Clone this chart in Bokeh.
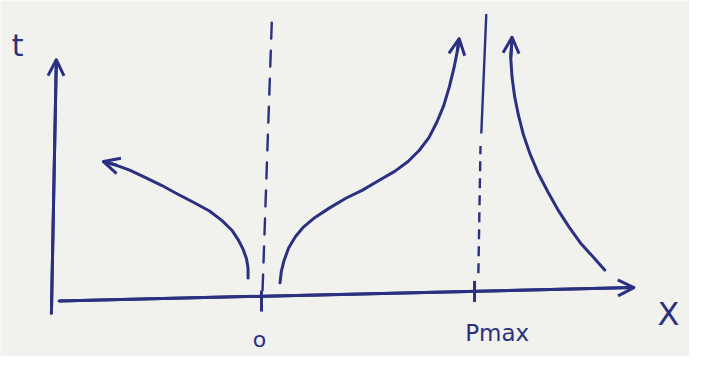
from bokeh.plotting import figure
from bokeh.models import Range1d, Arrow, OpenHead, ColumnDataSource
from bokeh.core.properties import value
from bokeh.embed import file_html
from bokeh.resources import INLINE

INK = "#2b3080"
PAPER = "#f1f1ee"

# --- data (units: origin at x=0, Pmax at x=10; t in the same units) ---
# left branch (x < 0), drawn from near the origin out to the arrow
left_x = [-0.63, -0.63, -0.70, -0.86, -1.09, -1.39, -1.85, -2.44, -3.22,
          -3.99, -4.67, -5.44, -6.19, -6.80, -7.42]
left_t = [0.92, 1.38, 1.83, 2.29, 2.75, 3.21, 3.67, 4.13, 4.56,
          4.97, 5.35, 5.73, 6.09, 6.32, 6.50]
# middle branch (0 < x < Pmax)
mid_x = [0.87, 0.93, 1.06, 1.28, 1.59, 1.97, 2.51, 3.20, 3.96, 4.72, 5.49,
         6.27, 6.88, 7.40, 7.86, 8.24, 8.55, 8.82, 9.04, 9.19, 9.28]
mid_t = [0.69, 1.22, 1.76, 2.37, 2.90, 3.36, 3.82, 4.28, 4.74, 5.12, 5.58,
         6.04, 6.50, 7.03, 7.65, 8.41, 9.17, 10.09, 11.01, 11.78, 12.39]
# right branch (x > Pmax), drawn from the bottom up to the arrow
right_x = [16.11, 15.58, 14.97, 14.44, 13.90, 13.44, 12.98, 12.60, 12.29,
           12.06, 11.88, 11.76, 11.70, 11.76]
right_t = [1.30, 1.91, 2.60, 3.36, 4.21, 5.05, 5.96, 6.88, 7.80,
           8.72, 9.63, 10.55, 11.47, 12.46]

# axes of the sketch
t_axis_x = [-9.86, -9.63]
t_axis_t = [-0.78, 11.38]
x_axis_x = [-9.50, 17.48]
x_axis_t = [-0.18, 0.46]

# vertical asymptotes
origin_x = [0.05, 0.50]
origin_t = [0.32, 13.67]
pmax_solid_x = [10.32, 10.55]
pmax_solid_t = [7.89, 13.53]
pmax_dash_x = [10.18, 10.28]
pmax_dash_t = [1.15, 7.25]

# ticks on the x axis
tick_x = [0.0, 10.0]
tick_t0 = [-0.69, -0.23]
tick_t1 = [0.32, 0.78]

# labels
label_text = ["t", "o", "Pmax", "X"]
label_x = [-11.45, -0.09, 11.06, 19.10]
label_t = [12.05, -2.05, -1.70, -0.80]
label_size = ["30px", "22px", "23px", "32px"]

p = figure(width=689, height=356, output_backend="svg", toolbar_location=None,
           x_range=Range1d(-12.25, 20.09), y_range=Range1d(-2.844, 14.22),
           x_axis_location=None, y_axis_location=None, min_border=0)
p.grid.visible = False
p.outline_line_color = None
p.background_fill_color = PAPER
p.border_fill_color = PAPER

LW = 3

def arrow_line(xs, ts, size=16):
    p.line(xs, ts, line_color=INK, line_width=LW, line_join="round", line_cap="round")
    p.add_layout(Arrow(end=OpenHead(size=size, line_color=INK, line_width=LW),
                       x_start=xs[-2], y_start=ts[-2], x_end=xs[-1], y_end=ts[-1],
                       line_color=INK, line_width=LW))

arrow_line(t_axis_x, t_axis_t)
arrow_line(x_axis_x, x_axis_t)
arrow_line(left_x, left_t)
arrow_line(mid_x, mid_t)
arrow_line(right_x, right_t)

p.line(origin_x, origin_t, line_color=INK, line_width=2.4, line_dash="16 12", line_cap="round")
p.line(pmax_solid_x, pmax_solid_t, line_color=INK, line_width=2.4, line_cap="round")
p.line(pmax_dash_x, pmax_dash_t, line_color=INK, line_width=2.4, line_dash="10 7")

p.segment(x0=tick_x, y0=tick_t0, x1=tick_x, y1=tick_t1, line_color=INK, line_width=LW)

src = ColumnDataSource(dict(x=label_x, y=label_t, text=label_text, size=label_size))
p.text(x="x", y="y", text="text", source=src, text_font_size="size",
       text_font=value("DejaVu Sans"), text_color=INK,
       text_align="center", text_baseline="middle")

open("out.html", "w").write(file_html(p, INLINE))
